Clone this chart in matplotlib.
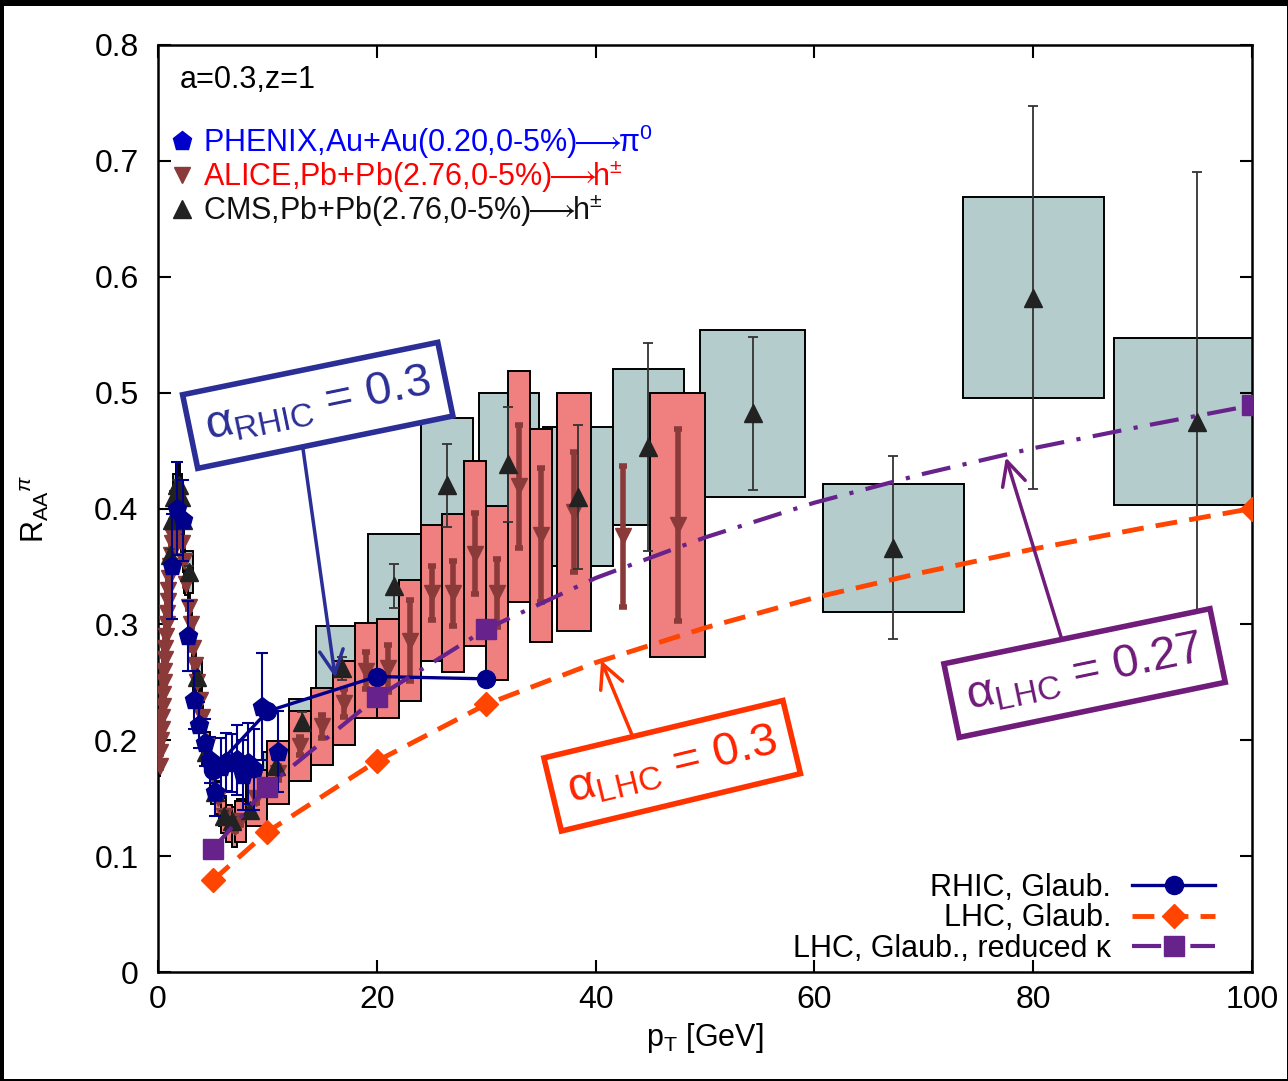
import matplotlib
matplotlib.use("Agg")
import matplotlib.pyplot as plt
from matplotlib.patches import Rectangle
from matplotlib.lines import Line2D

plt.rcParams['font.family'] = ['Liberation Sans', 'DejaVu Sans']
plt.rcParams['mathtext.fontset'] = 'custom'
plt.rcParams['mathtext.rm'] = 'Liberation Sans'
plt.rcParams['mathtext.it'] = 'Liberation Sans:italic'
plt.rcParams['mathtext.sf'] = 'Liberation Sans'
plt.rcParams['mathtext.fallback'] = 'stix'

# --- model curves ---
rhic_pt = [5, 10, 20, 30]
rhic_raa = [0.174, 0.225, 0.255, 0.253]

lhc_pt = [5, 10, 20, 30, 40, 50, 60, 70, 80, 90, 100]
lhc_raa = [0.079, 0.121, 0.182, 0.231, 0.267, 0.297, 0.323, 0.345, 0.365, 0.383, 0.400]

lhc_red_pt = [5, 10, 20, 30, 40, 50, 60, 70, 80, 90, 100]
lhc_red_raa = [0.106, 0.160, 0.237, 0.296, 0.340, 0.375, 0.405, 0.430, 0.452, 0.471, 0.489]

# marker only on the computed pT points
model_marks = [0, 1, 2, 3, 10]

# --- PHENIX Au+Au 0.2 TeV, pi0 ---
phenix_pt = [1.25, 1.75, 2.25, 2.75, 3.25, 3.75, 4.25, 4.75, 5.25, 5.75, 6.25,
             6.75, 7.25, 7.75, 8.25, 8.75, 9.5, 11.0]
phenix_raa = [0.350, 0.400, 0.390, 0.290, 0.235, 0.213, 0.198, 0.183, 0.155, 0.177,
              0.181, 0.180, 0.183, 0.170, 0.180, 0.175, 0.229, 0.190]
phenix_err = [0.045, 0.040, 0.035, 0.030, 0.025, 0.020, 0.020, 0.020, 0.020, 0.025,
              0.025, 0.025, 0.030, 0.030, 0.035, 0.035, 0.046, 0.035]

# --- ALICE Pb+Pb 2.76 TeV, charged hadrons ---
alice_pt = [0.175, 0.225, 0.275, 0.325, 0.375, 0.425, 0.475, 0.525, 0.575, 0.625,
            0.675, 0.725, 0.775, 0.825, 0.875, 0.925, 0.975, 1.05, 1.15, 1.25,
            1.35, 1.45, 1.6, 1.8, 2.0, 2.2, 2.4, 2.6, 2.8, 3.0,
            3.2, 3.4, 3.6, 3.8, 4.0, 4.5, 5.0, 5.5, 6.0, 6.5,
            7.0, 7.5, 9.0, 11.0, 13.0, 15.0, 17.0, 19.0, 21.0, 23.0,
            25.0, 27.0, 29.0, 31.0, 33.0, 35.0, 38.0, 42.5, 47.5]
alice_raa = [0.178, 0.190, 0.200, 0.210, 0.220, 0.230, 0.240, 0.250, 0.260, 0.270,
             0.280, 0.290, 0.300, 0.310, 0.320, 0.330, 0.340, 0.350, 0.360, 0.370,
             0.375, 0.380, 0.385, 0.390, 0.385, 0.370, 0.355, 0.335, 0.315, 0.300,
             0.280, 0.265, 0.250, 0.235, 0.220, 0.195, 0.170, 0.150, 0.135, 0.128,
             0.125, 0.130, 0.150, 0.172, 0.195, 0.212, 0.232, 0.260, 0.262, 0.286,
             0.327, 0.327, 0.361, 0.327, 0.419, 0.377, 0.397, 0.376, 0.386]
alice_stat = [0.002, 0.002, 0.002, 0.002, 0.002, 0.002, 0.002, 0.002, 0.002, 0.002,
              0.002, 0.002, 0.002, 0.002, 0.002, 0.002, 0.002, 0.002, 0.002, 0.002,
              0.002, 0.002, 0.002, 0.002, 0.002, 0.002, 0.002, 0.002, 0.002, 0.002,
              0.002, 0.002, 0.002, 0.002, 0.002, 0.002, 0.002, 0.002, 0.002, 0.002,
              0.003, 0.003, 0.004, 0.006, 0.008, 0.010, 0.012, 0.016, 0.020, 0.035,
              0.023, 0.028, 0.035, 0.029, 0.053, 0.058, 0.052, 0.061, 0.083]
alice_syst = [0.010, 0.010, 0.010, 0.010, 0.010, 0.010, 0.010, 0.010, 0.010, 0.010,
              0.010, 0.010, 0.010, 0.010, 0.010, 0.010, 0.010, 0.010, 0.010, 0.010,
              0.010, 0.010, 0.010, 0.010, 0.010, 0.010, 0.010, 0.010, 0.010, 0.010,
              0.010, 0.010, 0.010, 0.010, 0.010, 0.012, 0.013, 0.014, 0.015, 0.016,
              0.017, 0.018, 0.024, 0.027, 0.030, 0.033, 0.036, 0.041, 0.043, 0.052,
              0.059, 0.068, 0.080, 0.075, 0.100, 0.092, 0.103, 0.0, 0.114]
alice_halfw = [0.025, 0.025, 0.025, 0.025, 0.025, 0.025, 0.025, 0.025, 0.025, 0.025,
               0.025, 0.025, 0.025, 0.025, 0.025, 0.025, 0.025, 0.05, 0.05, 0.05,
               0.05, 0.05, 0.1, 0.1, 0.1, 0.1, 0.1, 0.1, 0.1, 0.1,
               0.1, 0.1, 0.1, 0.1, 0.1, 0.25, 0.25, 0.25, 0.25, 0.25,
               0.25, 0.5, 1.0, 1.0, 1.0, 1.0, 1.0, 1.0, 1.0, 1.0,
               1.0, 1.0, 1.0, 1.0, 1.0, 1.0, 1.55, 0.0, 2.5]

# --- CMS Pb+Pb 2.76 TeV, charged hadrons ---
cms_pt = [1.1, 1.3, 1.5, 1.7, 1.9, 2.1, 2.3, 2.8, 3.6, 4.4, 5.2, 6.0, 6.8, 8.4,
          10.8, 13.2, 16.8, 21.6, 26.4, 32.0, 38.4, 44.8, 54.4, 67.2, 80.0, 95.0]
cms_raa = [0.360, 0.390, 0.410, 0.420, 0.420, 0.410, 0.390, 0.345, 0.255, 0.190,
           0.155, 0.135, 0.130, 0.140, 0.178, 0.216, 0.262, 0.333, 0.420, 0.438,
           0.410, 0.453, 0.482, 0.366, 0.582, 0.475]
cms_stat = [0.005, 0.005, 0.005, 0.005, 0.005, 0.005, 0.005, 0.005, 0.004, 0.004,
            0.004, 0.004, 0.004, 0.004, 0.006, 0.008, 0.010, 0.019, 0.036, 0.050,
            0.062, 0.090, 0.066, 0.079, 0.165, 0.215]
cms_syst = [0.020, 0.020, 0.020, 0.020, 0.020, 0.020, 0.020, 0.018, 0.015, 0.012,
            0.010, 0.009, 0.009, 0.009, 0.012, 0.020, 0.037, 0.045, 0.058, 0.062,
            0.060, 0.067, 0.072, 0.055, 0.087, 0.072]
cms_lo = [1.0, 1.2, 1.4, 1.6, 1.8, 2.0, 2.2, 2.4, 3.2, 4.0, 4.8, 5.6, 6.4, 7.2,
          9.6, 12.0, 14.4, 19.2, 24.0, 29.3, 35.2, 41.6, 49.5, 60.8, 73.6, 87.4]
cms_hi = [1.2, 1.4, 1.6, 1.8, 2.0, 2.2, 2.4, 3.2, 4.0, 4.8, 5.6, 6.4, 7.2, 9.6,
          12.0, 14.4, 19.2, 24.0, 28.8, 34.8, 41.6, 48.1, 59.1, 73.7, 86.5, 103.6]

CMS_BOX = '#B4CCCC'
ALICE_BOX = '#F08080'
ALICE_COL = '#8B3A3A'
CMS_COL = '#222222'
PHENIX_COL = '#00008B'
RHIC_COL = '#00008B'
LHC_COL = '#FF4500'
RED_COL = '#68228B'
FS = 22

fig = plt.figure(figsize=(12.88, 10.81), dpi=100)
fig.patch.set_facecolor('black')
fig.add_artist(Rectangle((4 / 1288, 2 / 1081), 1 - 5 / 1288, 1 - 8 / 1081,
                         transform=fig.transFigure, fc='white', ec='none', zorder=0))

ax = fig.add_axes([0.1227, 0.1008, 0.8493, 0.8576])
ax.set_xlim(0, 100)
ax.set_ylim(0, 0.8)

# systematic boxes: CMS underneath, ALICE on top
for p, r, s, lo, hi in zip(cms_pt, cms_raa, cms_syst, cms_lo, cms_hi):
    ax.add_patch(Rectangle((lo, r - s), hi - lo, 2 * s, fc=CMS_BOX, ec='black',
                           lw=1.4, zorder=1))
for p, r, s, hw in zip(alice_pt, alice_raa, alice_syst, alice_halfw):
    if s > 0:
        ax.add_patch(Rectangle((p - hw, r - s), 2 * hw, 2 * s, fc=ALICE_BOX,
                               ec='black', lw=1.4, zorder=2))

ax.errorbar(alice_pt, alice_raa, yerr=alice_stat, fmt='v', color=ALICE_COL, ms=12,
            elinewidth=4, capsize=3, capthick=4, zorder=3)
ax.errorbar(cms_pt, cms_raa, yerr=cms_stat, fmt='^', color=CMS_COL, ms=13,
            ecolor='#333333', elinewidth=1.3, capsize=3.5, capthick=1.3, zorder=4)
ax.errorbar(phenix_pt, phenix_raa, yerr=phenix_err, fmt='p', color=PHENIX_COL, ms=14,
            elinewidth=1.5, capsize=4, capthick=1.5, zorder=5)

l_rhic, = ax.plot(rhic_pt, rhic_raa, '-o', color=RHIC_COL, lw=2.4, ms=13, zorder=6,
                  label='RHIC, Glaub.')
l_lhc, = ax.plot(lhc_pt, lhc_raa, '--D', color=LHC_COL, lw=3.5, ms=12, zorder=6,
                 dashes=(4.5, 2.5), markevery=model_marks, label='LHC, Glaub.')
l_red, = ax.plot(lhc_red_pt, lhc_red_raa, '-.s', color=RED_COL, lw=3.0, ms=14, zorder=6,
                 dashes=(7, 3, 1, 3), markevery=model_marks,
                 label='LHC, Glaub., reduced κ')

# data legend in the upper left
ax.text(0.0201, 0.962, 'a=0.3,z=1', transform=ax.transAxes, fontsize=FS, va='center')
data_handles = [
    Line2D([], [], ls='none', marker='p', color='#0000CC', ms=14),
    Line2D([], [], ls='none', marker='v', color=ALICE_COL, ms=12),
    Line2D([], [], ls='none', marker='^', color=CMS_COL, ms=13),
]
data_labels = [
    r'PHENIX,Au+Au(0.20,0-5%)$\!\!\longrightarrow\!\!$π$^0$',
    r'ALICE,Pb+Pb(2.76,0-5%)$\!\!\longrightarrow\!\!$h$^{\pm}$',
    r'CMS,Pb+Pb(2.76,0-5%)$\!\!\longrightarrow\!\!$h$^{\pm}$',
]
leg_data = ax.legend(data_handles, data_labels, loc='upper left',
                     bbox_to_anchor=(0.011, 0.916), frameon=False, fontsize=FS,
                     handlelength=0.8, handletextpad=0.28, labelspacing=-0.08,
                     borderaxespad=0, borderpad=0,
                     labelcolor=['#0000FF', '#FF0000', '#111111'])
ax.add_artist(leg_data)

ax.legend(handles=[l_rhic, l_lhc, l_red], loc='lower right', markerfirst=False,
          bbox_to_anchor=(1 - 37 / 1094, 8 / 927), frameon=False, fontsize=FS,
          handlelength=2.7, handletextpad=0.69, labelspacing=0.02,
          borderaxespad=0, borderpad=0)

# alpha annotations
ann = [
    ('α$_{\\mathrm{RHIC}}$ = 0.3', (16.2, 0.254), (14.6, 0.489), 11.6, '#2A2E96',
     '#2A2E96', (0.43, 0.14)),
    ('α$_{\\mathrm{LHC}}$ = 0.3', (40.5, 0.269), (47.0, 0.178), 13.5, '#FF2200',
     '#FF3300', (0.34, 0.70)),
    ('α$_{\\mathrm{LHC}}$ = 0.27', (77.5, 0.444), (84.7, 0.258), 11.7, '#6E1A78',
     '#701C7A', (0.41, 0.84)),
]
for txt, tip, pos, rot, tcol, bcol, rel in ann:
    ax.annotate(txt, xy=tip, xytext=pos, ha='center', va='center', rotation=rot,
                rotation_mode='anchor', fontsize=34, color=tcol, zorder=8,
                bbox=dict(boxstyle='square,pad=0.33', fc='white', ec=bcol, lw=4),
                arrowprops=dict(arrowstyle='->,head_length=0.5,head_width=0.25',
                                color=bcol, lw=2.5, shrinkA=0, shrinkB=0, relpos=rel))

ax.set_xticks([0, 20, 40, 60, 80, 100])
ax.set_yticks([0, 0.1, 0.2, 0.3, 0.4, 0.5, 0.6, 0.7, 0.8])
ax.set_yticklabels(['0', '0.1', '0.2', '0.3', '0.4', '0.5', '0.6', '0.7', '0.8'])
ax.tick_params(direction='in', length=9, width=1.5, top=True, right=True,
               labelsize=23)
ax.tick_params(axis='x', pad=9)
ax.tick_params(axis='y', pad=14)
for sp in ax.spines.values():
    sp.set_linewidth(1.8)

ax.set_xlabel(r'p$_{\mathrm{T}}$ [GeV]', fontsize=FS, labelpad=5)
ax.set_ylabel(r'R$_{\mathrm{AA}}$$^{\pi}$', fontsize=FS, labelpad=31)

fig.savefig('out.png', dpi=100, facecolor=fig.get_facecolor())
